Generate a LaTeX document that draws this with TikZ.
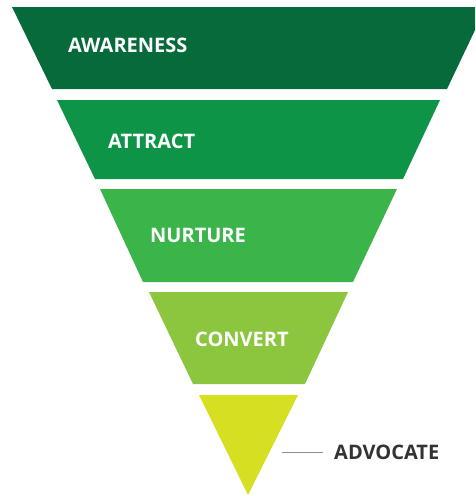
\documentclass[tikz,border=0pt]{standalone}
\usepackage{fontspec}
\setmainfont{Open Sans}
\definecolor{stageA}{RGB}{6,106,58}
\definecolor{stageB}{RGB}{13,148,71}
\definecolor{stageC}{RGB}{59,181,74}
\definecolor{stageD}{RGB}{140,198,63}
\definecolor{stageE}{RGB}{215,223,35}
\definecolor{labelgray}{RGB}{51,51,51}
\definecolor{leadgray}{RGB}{140,140,140}
\begin{document}
\begin{tikzpicture}[x=1pt,y=-1pt,
  stagelabel/.style={anchor=west,text=white,font=\bfseries\fontsize{20}{24}\selectfont,inner sep=0pt},
  sidelabel/.style={anchor=west,text=labelgray,font=\bfseries\fontsize{20}{24}\selectfont,inner sep=0pt},
  leader/.style={draw=leadgray,line width=0.8pt}]
\useasboundingbox (0,0) rectangle (475,496);
\clip (0,0) rectangle (475,496);
% funnel bands, top to bottom
\fill[stageA] (12,7) -- (486,7) -- (447,89) -- (52,89) -- cycle;
\fill[stageB] (57,100) -- (440,100) -- (403,179) -- (95,179) -- cycle;
\fill[stageC] (100,189) -- (397,189) -- (353,282) -- (143,282) -- cycle;
\fill[stageD] (149,292) -- (348,292) -- (305,384) -- (193,384) -- cycle;
\fill[stageE] (199,395) -- (298,395) -- (248,495) -- cycle;
% stage names
\node[stagelabel] (awareness) at (68,45) {AWARENESS};
\node[stagelabel] (attract) at (108,141) {ATTRACT};
\node[stagelabel] (nurture) at (150,235) {NURTURE};
\node[stagelabel] (convert) at (195,339) {CONVERT};
\node[sidelabel] (advocate) at (334,452) {ADVOCATE};
\coordinate (tip) at (282,452);
\draw[leader] (tip) -- ([xshift=-11pt]advocate.west);
\end{tikzpicture}
\end{document}
